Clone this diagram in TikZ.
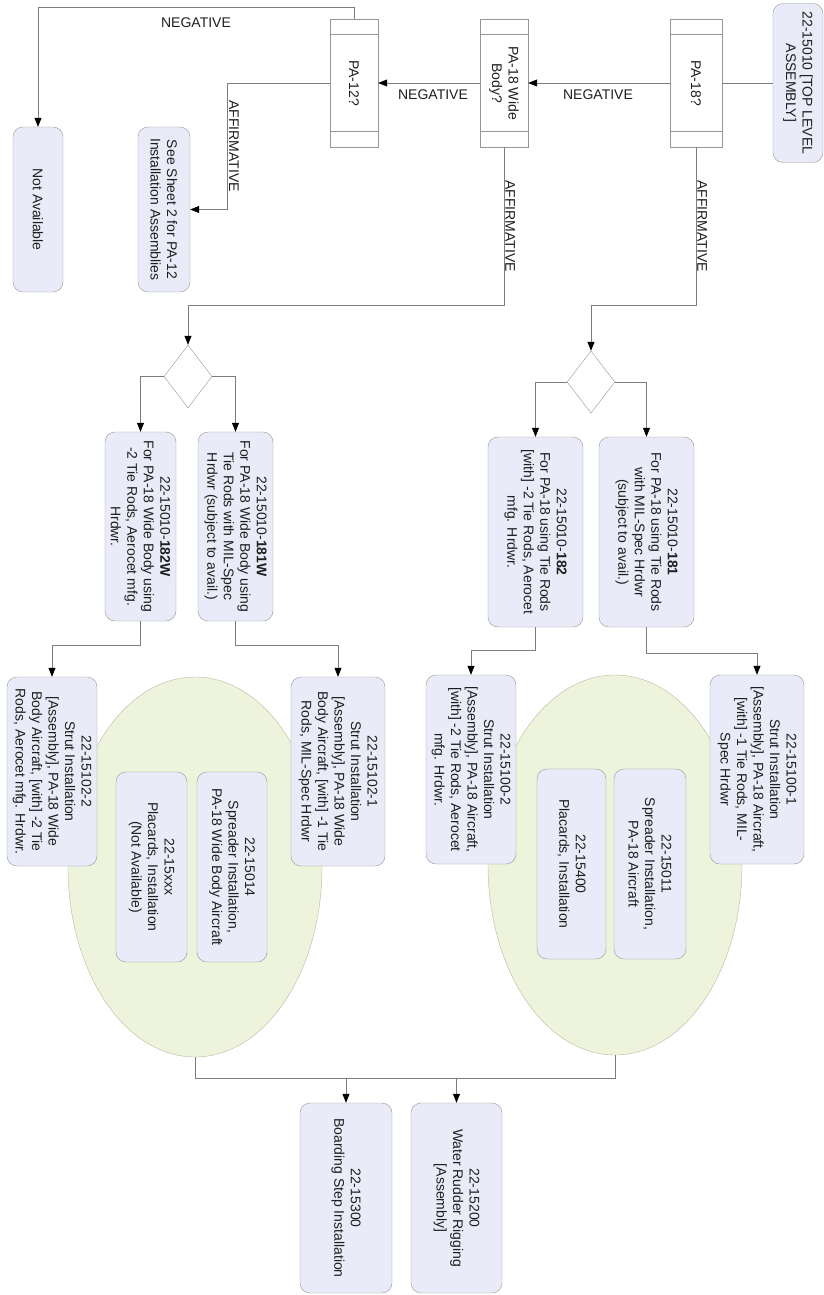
\documentclass[tikz,border=0pt]{standalone}
\usepackage{fontspec}
\setmainfont{Liberation Sans}
\usetikzlibrary{arrows.meta,positioning,shapes.geometric,calc}
\definecolor{pcblue}{RGB}{233,235,248}
\definecolor{pcedge}{RGB}{150,150,150}
\definecolor{pcline}{RGB}{125,125,125}
\definecolor{pcgreen}{RGB}{238,243,220}
\definecolor{pcgreenedge}{RGB}{185,185,160}
\definecolor{pctext}{RGB}{30,30,30}

\begin{document}
\begin{tikzpicture}[x=1pt, y=1pt, rotate=-90, transform shape,
  every node/.style={font=\fontsize{14}{16.5}\selectfont, text=pctext},
  partbox/.style={draw=pcedge, fill=pcblue, rounded corners=10pt, align=center, inner sep=2pt, minimum width=190pt},
  askbox/.style={draw=pcedge, fill=white, align=center, inner sep=2pt, minimum width=128pt},
  splitter/.style={diamond, draw=pcedge, fill=white, inner sep=0pt, minimum width=62pt, minimum height=48pt},
  kitoval/.style={ellipse, draw=pcgreenedge, fill=pcgreen, inner sep=0pt, minimum width=380pt, minimum height=254pt},
  wire/.style={draw=pcline, line width=0.8pt},
  feed/.style={wire, -{Triangle[length=9pt, width=7pt, color=black]}},
  answer/.style={inner sep=1pt}]
\useasboundingbox (0,0) rectangle (1295,824);

% decisions
\node[partbox, minimum width=159pt, minimum height=50pt] (top) at (83,798) {22-15010 [TOP LEVEL\\ASSEMBLY]};
\node[askbox, minimum height=52pt] (pa18) at (83,696) {PA-18?};
\node[askbox, minimum height=48pt] (pa18w) at (83,504) {PA-18 Wide\\Body?};
\node[askbox, minimum height=48pt] (pa12) at (83,354) {PA-12?};
\foreach \q in {pa18,pa18w,pa12}{
  \draw[draw=pcedge, line width=0.8pt] ($(\q.north west)+(16,0)$) -- ($(\q.south west)+(16,0)$);
  \draw[draw=pcedge, line width=0.8pt] ($(\q.north east)+(-16,0)$) -- ($(\q.south east)+(-16,0)$);
}
\node[partbox, minimum width=165pt, minimum height=50pt] (notavail) at (209.5,38) {Not Available};
\node[partbox, minimum width=165pt, minimum height=52pt] (sheet2) at (209.5,164) {See Sheet 2 for PA-12\\Installation Assemblies};

\draw[wire] (top.south) -- (pa18.north);
\draw[feed] (pa18.south) -- (pa18w.north);
\node[answer, rotate=90] at (95,598) {NEGATIVE};
\draw[feed] (pa18w.south) -- (pa12.north);
\node[answer, rotate=90] at (95,433) {NEGATIVE};
\draw[feed] (pa12.west) -- ++(-11,0) |- (notavail.west);
\node[answer, rotate=90] at (23,196) {NEGATIVE};
\draw[feed] (pa12.south) -- ++(0,-102) -| node[pos=0.25, answer, above]{AFFIRMATIVE} (sheet2.north);

% first split
\node[splitter] (dia1) at (382,591) {};
\node[splitter, minimum width=63pt] (dia2) at (376.5,188) {};
\draw[feed] (pa18.east) -- ++(158,0) node[midway, answer, above]{AFFIRMATIVE} |- (dia1.west);
\draw[feed] (pa18w.east) -- ++(158,0) node[midway, answer, above]{AFFIRMATIVE} |- (dia2.west);

\node[partbox, minimum height=95pt] (k181) at (532,646.5) {22-15010-\textbf{181}\\For PA-18 using Tie Rods\\with MIL-Spec Hrdwr\\(subject to avail.)};
\node[partbox, minimum height=95pt] (k182) at (532,535.5) {22-15010-\textbf{182}\\For PA-18 using Tie Rods\\{}[with] -2 Tie Rods, Aerocet\\mfg. Hrdwr.};
\node[partbox, minimum width=189pt, minimum height=75pt] (k181w) at (526.5,235.5) {22-15010-\textbf{181W}\\For PA-18 Wide Body using\\Tie Rods with MIL-Spec\\Hrdwr (subject to avail.)};
\node[partbox, minimum width=189pt, minimum height=71pt] (k182w) at (526.5,140.5) {22-15010-\textbf{182W}\\For PA-18 Wide Body using\\-2 Tie Rods, Aerocet mfg.\\Hrdwr.};
\draw[feed] (dia1.south) |- (k182.west);
\draw[feed] (dia1.north) |- (k181.west);
\draw[feed] (dia2.south) |- (k182w.west);
\draw[feed] (dia2.north) |- (k181w.west);

% kits
\node[kitoval] (kit18) at (865,615) {};
\node[kitoval] (kit18w) at (867,195) {};
\node[partbox, minimum width=189pt, minimum height=94pt] (s1001) at (769.5,757) {22-15100-1\\Strut Installation\\{}[Assembly], PA-18 Aircraft,\\{}[with] -1 Tie Rods, MIL-\\Spec Hrdwr};
\node[partbox, minimum width=189pt, minimum height=90pt] (s1002) at (769.5,471) {22-15100-2\\Strut Installation\\{}[Assembly], PA-18 Aircraft,\\{}[with] -2 Tie Rods, Aerocet\\mfg. Hrdwr.};
\node[partbox, minimum width=189pt, minimum height=94pt] (s1021) at (771.5,338) {22-15102-1\\Strut Installation\\{}[Assembly], PA-18 Wide\\Body Aircraft, [with] -1 Tie\\Rods, MIL-Spec Hrdwr};
\node[partbox, minimum width=189pt, minimum height=90pt] (s1022) at (771.5,52) {22-15102-2\\Strut Installation\\{}[Assembly], PA-18 Wide\\Body Aircraft, [with] -2 Tie\\Rods, Aerocet mfg. Hrdwr.};
\node[partbox, minimum height=69pt] (pl15400) at (864,571.5) {22-15400\\Placards, Installation};
\node[partbox, minimum height=72pt] (sp15011) at (864,650) {22-15011\\Spreader Installation,\\PA-18 Aircraft};
\node[partbox, minimum height=71pt] (pl15xxx) at (867,151.5) {22-15xxx\\Placards, Installation\\(Not Available)};
\node[partbox, minimum height=70pt] (sp15014) at (867,232) {22-15014\\Spreader Installation,\\PA-18 Wide Body Aircraft};
\draw[feed] (k182.east) -- ++(23,0) |- (s1002.west);
\draw[feed] (k181.east) -- ++(26,0) |- (s1001.west);
\draw[feed] (k182w.east) -- ++(24,0) |- (s1022.west);
\draw[feed] (k181w.east) -- ++(24,0) |- (s1021.west);

% common parts
\node[partbox, minimum height=92pt] (b15300) at (1198,346) {22-15300\\Boarding Step Installation};
\node[partbox, minimum height=91pt] (b15200) at (1198,456.5) {22-15200\\Water Rudder Rigging\\{}[Assembly]};
\draw[wire] (kit18.east) -- ++(23,0) coordinate (busR) -- (busR |- kit18w.east) -- (kit18w.east);
\draw[feed] (busR |- b15300.west) -- (b15300.west);
\draw[feed] (busR |- b15200.west) -- (b15200.west);
\end{tikzpicture}
\end{document}
